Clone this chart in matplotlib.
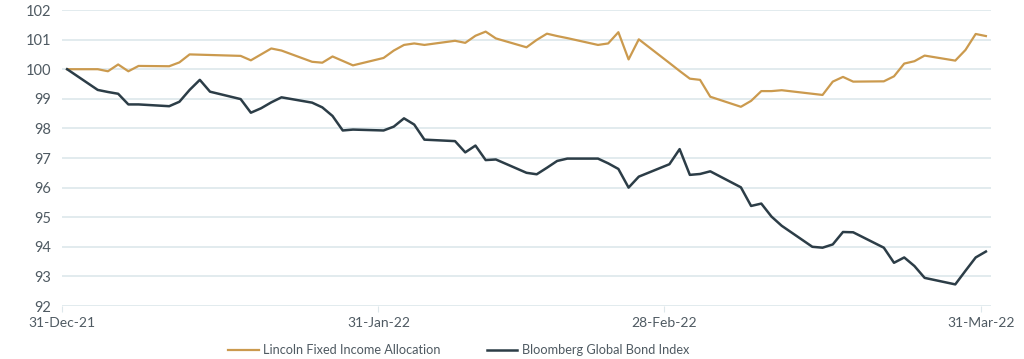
import numpy as np
import pandas as pd
import matplotlib
matplotlib.use("Agg")
import matplotlib.pyplot as plt
import matplotlib.dates as mdates

plt.rcParams['font.family'] = ['Lato', 'DejaVu Sans']

# business days, 31-Dec-21 .. 31-Mar-22
dates = pd.bdate_range("2021-12-31", "2022-03-31")

lincoln = [100.00, 100.00, 99.93, 100.16, 99.93, 100.11,
           100.10, 100.23, 100.50, 100.49, 100.48,
           100.45, 100.30, 100.50, 100.70, 100.63,
           100.25, 100.22, 100.43, 100.28, 100.13,
           100.38, 100.63, 100.82, 100.87, 100.82,
           100.96, 100.89, 101.13, 101.27, 101.04,
           100.74, 100.99, 101.20, 101.12, 101.05,
           100.82, 100.87, 101.25, 100.33, 101.01,
           100.21, 99.94, 99.68, 99.64, 99.07,
           98.73, 98.93, 99.26, 99.26, 99.29,
           99.17, 99.13, 99.58, 99.74, 99.58,
           99.59, 99.76, 100.19, 100.27, 100.46,
           100.29, 100.65, 101.19, 101.12]

bloomberg = [100.00, 99.30, 99.23, 99.17, 98.81, 98.81,
             98.75, 98.90, 99.30, 99.64, 99.24,
             98.99, 98.53, 98.68, 98.88, 99.05,
             98.87, 98.71, 98.42, 97.93, 97.96,
             97.93, 98.06, 98.34, 98.13, 97.62,
             97.57, 97.19, 97.42, 96.93, 96.95,
             96.50, 96.45, 96.67, 96.90, 96.98,
             96.98, 96.82, 96.63, 96.00, 96.37,
             96.79, 97.30, 96.43, 96.46, 96.55,
             96.01, 95.38, 95.46, 95.02, 94.71,
             94.00, 93.97, 94.08, 94.50, 94.49,
             93.97, 93.46, 93.64, 93.35, 92.95,
             92.73, 93.19, 93.64, 93.84]

tick_dates = pd.to_datetime(["2021-12-31", "2022-01-31", "2022-02-28", "2022-03-31"])
tick_labels = ["31-Dec-21", "31-Jan-22", "28-Feb-22", "31-Mar-22"]

gold = "#CB9A4E"
slate = "#2C3D47"
text_col = "#4F5A62"
grid_col = "#DDE7EB"

fig = plt.figure(figsize=(10.24, 3.59), dpi=100)
ax = fig.add_axes([62 / 1024, 1 - 306 / 359, (991 - 62) / 1024, 296 / 359])

# points sit in the middle of each day
x = dates + pd.Timedelta(hours=12)
ax.plot(x, lincoln, color=gold, lw=1.6, label="Lincoln Fixed Income Allocation")
ax.plot(x, bloomberg, color=slate, lw=1.8, label="Bloomberg Global Bond Index")

ax.set_ylim(92, 102)
ax.set_yticks(range(92, 103))
ax.set_xlim(pd.Timestamp("2021-12-31"), pd.Timestamp("2022-04-01"))
ax.set_xticks(tick_dates)
ax.set_xticklabels(tick_labels)

ax.grid(axis='y', color=grid_col, lw=1.2)
ax.set_axisbelow(True)
for s in ax.spines.values():
    s.set_visible(False)
ax.tick_params(axis='y', length=0, labelsize=10.5, labelcolor=text_col, pad=8)
ax.tick_params(axis='x', length=4, color=grid_col, labelsize=10, labelcolor=text_col, pad=4)

fig.legend(loc='lower center', ncol=2, frameon=False, fontsize=9.2,
           labelcolor=text_col, handlelength=2.4, handletextpad=0.35,
           columnspacing=3.6, bbox_to_anchor=(0.448, -0.025))

fig.savefig("out.png", dpi=100)
